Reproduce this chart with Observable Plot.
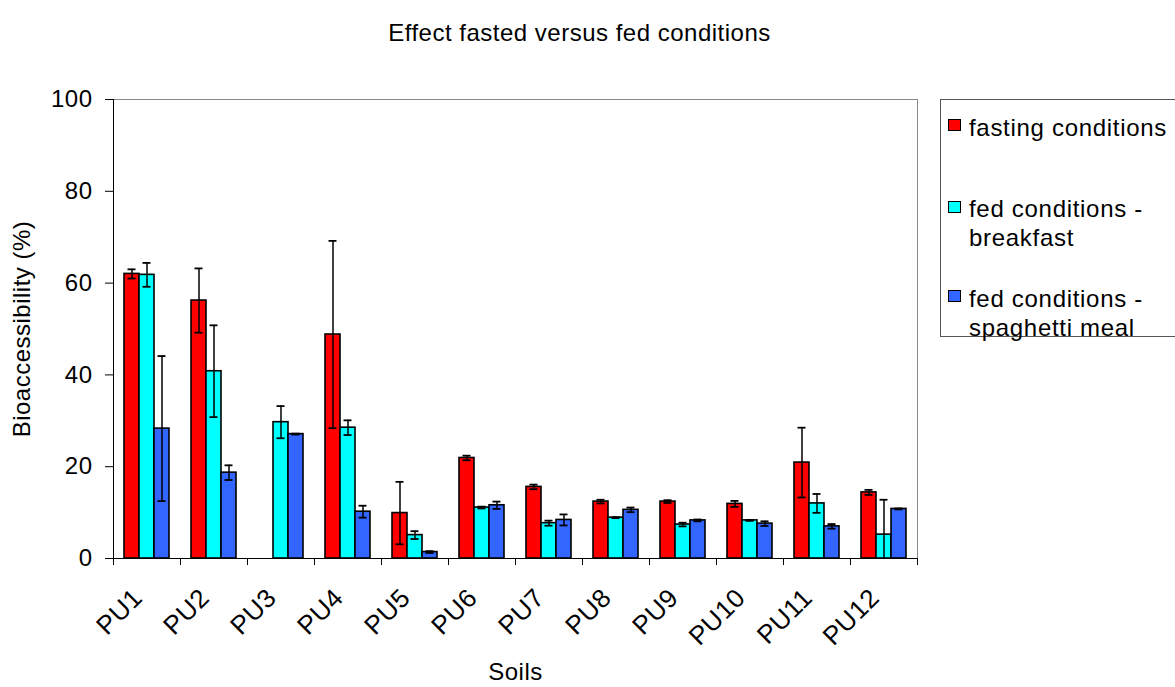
<!DOCTYPE html>
<html><head><meta charset="utf-8">
<script src="https://cdn.jsdelivr.net/npm/d3@7"></script>
<script src="https://cdn.jsdelivr.net/npm/@observablehq/plot@0.6"></script>
<style>
body{margin:0;background:#fff;font-family:"Liberation Sans",Arial,sans-serif;}
#wrap{position:relative;width:1175px;height:687px;overflow:hidden;background:#fff;}
#legend{position:absolute;left:940px;top:99px;width:260px;height:238px;border:1px solid #555;box-sizing:border-box;background:#fff;}
.txt{position:absolute;left:28px;font-size:24px;letter-spacing:0.7px;line-height:29px;color:#000;white-space:nowrap;}
.sw{position:absolute;left:7px;width:13px;height:12px;border:1px solid #000;box-sizing:border-box;}
</style>
</head><body>
<div id="wrap"><div id="chart"></div><div id="legend"></div></div>
<script>
const soils = ["PU1","PU2","PU3","PU4","PU5","PU6","PU7","PU8","PU9","PU10","PU11","PU12"];
const seriesNames = ["fasting conditions", "fed conditions - breakfast", "fed conditions - spaghetti meal"];
const seriesColors = ["#ff0000", "#00ffff", "#3366ff"];
const fasting      = [62.0, 56.2, null, 48.8, 9.9, 21.9, 15.6, 12.4, 12.4, 11.9, 20.9, 14.4];
const fastingErr   = [1.0, 7.0, null, 20.4, 6.8, 0.5, 0.5, 0.4, 0.3, 0.65, 7.6, 0.55];
const breakfast    = [61.8, 40.8, 29.7, 28.5, 5.1, 11.1, 7.7, 8.9, 7.4, 8.3, 12.0, 5.2];
const breakfastErr = [2.6, 10.0, 3.5, 1.6, 0.85, 0.2, 0.55, 0.1, 0.4, 0.1, 2.05, 7.6];
const spaghetti    = [28.3, 18.7, 27.1, 10.2, 1.4, 11.6, 8.4, 10.6, 8.3, 7.6, 7.0, 10.8];
const spaghettiErr = [15.8, 1.6, 0.1, 1.3, 0.2, 0.8, 1.2, 0.5, 0.2, 0.5, 0.5, 0.1];
const yTicks = [0, 20, 40, 60, 80, 100];
const title = "Effect fasted versus fed conditions";
const yLabel = "Bioaccessibility (%)";
const xLabel = "Soils";

const values = [fasting, breakfast, spaghetti];
const errs = [fastingErr, breakfastErr, spaghettiErr];
const rows = soils.flatMap((s, i) => seriesNames.map((k, j) => ({
  soil: s, series: k, j, value: values[j][i], err: errs[j][i]
}))).filter(d => d.value != null);

const barW = 15, band = 67;
const font = "'Liberation Sans', Arial, sans-serif";
const marks = [
  Plot.frame({stroke: "#888"}),
];
for (let j = 0; j < 3; j++) {
  const data = rows.filter(d => d.j === j);
  const dx = (j - 1) * barW;
  marks.push(Plot.barY(data, {x: "soil", y: "value", fill: "series", stroke: "black", strokeWidth: 1.6,
    insetLeft: (band - barW) / 2, insetRight: (band - barW) / 2, dx}));
  const eb = data.filter(d => d.err != null);
  marks.push(Plot.ruleX(eb, {x: "soil", y1: d => Math.max(0, d.value - d.err), y2: d => d.value + d.err,
    stroke: "black", strokeWidth: 1.5, dx}));
  marks.push(Plot.tickY(eb, {x: "soil", y: d => d.value + d.err, stroke: "black", strokeWidth: 1.8,
    insetLeft: 29.5, insetRight: 29.5, dx}));
  marks.push(Plot.tickY(eb.filter(d => d.value - d.err >= 0), {x: "soil", y: d => d.value - d.err,
    stroke: "black", strokeWidth: 1.8, insetLeft: 29.5, insetRight: 29.5, dx}));
}
marks.push(
  Plot.frame({anchor: "left", stroke: "black"}),
  Plot.ruleY([0], {stroke: "black"}),
  Plot.axisY({ticks: yTicks, tickSize: 8, tickPadding: 13, label: null, fontSize: 24}),
  Plot.axisX({tickSize: 0, tickPadding: 35, tickRotate: -45, dx: -9, label: null, fontSize: 26}),
  Plot.axisX({ticks: soils, tickSize: 7, dx: -band / 2, fill: "none", label: null}),
  Plot.axisX({ticks: soils.slice(-1), tickSize: 7, dx: band / 2, fill: "none", label: null}),
  Plot.text([yLabel], {frameAnchor: "left", text: d => d, rotate: -90, dx: -91, textAnchor: "middle", lineAnchor: "middle", fontSize: 24}),
  Plot.text([xLabel], {frameAnchor: "bottom", text: d => d, dy: 114, lineAnchor: "middle", fontSize: 24}),
  Plot.text([title], {frameAnchor: "top", text: d => d, dy: -66, dx: 64, lineAnchor: "middle", fontSize: 24})
);

const chart = Plot.plot({
  width: 1175, height: 687,
  marginLeft: 113, marginRight: 258, marginTop: 99, marginBottom: 129,
  style: {fontFamily: font, fontSize: "24px", background: "#fff", color: "#000", letterSpacing: "0.5px", overflow: "visible"},
  x: {type: "band", domain: soils, padding: 0},
  y: {domain: [0, 100]},
  color: {domain: seriesNames, range: seriesColors},
  marks
});
document.getElementById("chart").appendChild(chart);

const legend = document.getElementById("legend");
const entries = [
  {lines: ["fasting conditions"], top: 13, sw: 19},
  {lines: ["fed conditions -", "breakfast"], top: 94, sw: 101},
  {lines: ["fed conditions -", "spaghetti meal"], top: 184, sw: 190}
];
entries.forEach((e, j) => {
  const sw = document.createElement("div");
  sw.className = "sw"; sw.style.top = e.sw + "px"; sw.style.background = seriesColors[j];
  legend.appendChild(sw);
  const t = document.createElement("div");
  t.className = "txt"; t.style.top = e.top + "px";
  t.innerHTML = e.lines.join("<br>");
  legend.appendChild(t);
});
</script>
</body></html>
